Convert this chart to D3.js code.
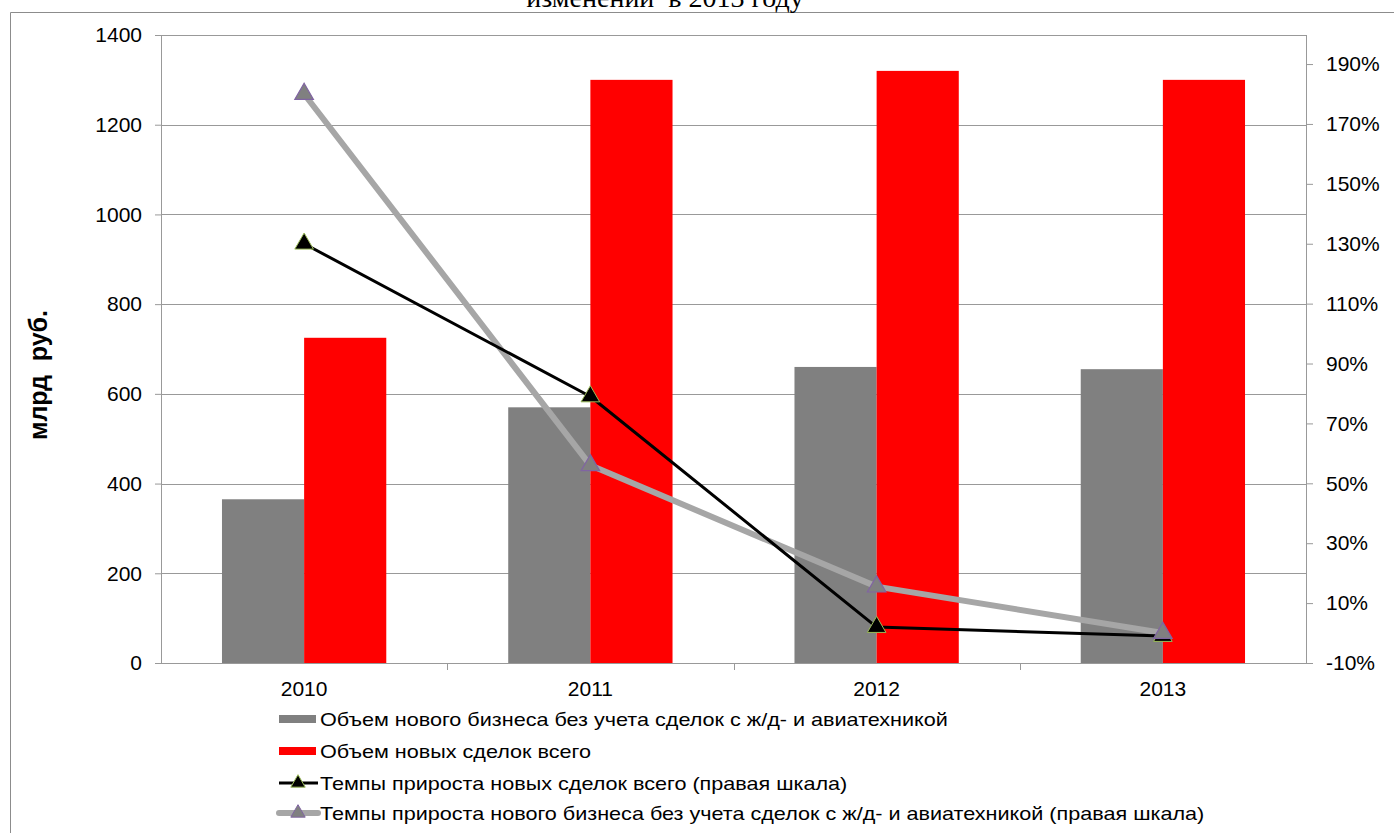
<!DOCTYPE html>
<html>
<head>
<meta charset="utf-8">
<script src="https://cdn.jsdelivr.net/npm/d3@7"></script>
<style>
  body { margin: 0; background: #fff; }
  svg text { font-family: Arial, 'Liberation Sans', sans-serif; fill: #000; }
</style>
</head>
<body>
<div id="chart"></div>
<script>
// data
const years = ['2010', '2011', '2012', '2013'];
const volumeNoRail = [365, 570, 660, 655];        // млрд руб, gray bars
const volumeTotal = [725, 1300, 1320, 1300];      // млрд руб, red bars
const growthTotal = [1.30, 0.79, 0.02, -0.01];    // right scale
const growthNoRail = [1.80, 0.56, 0.155, 0.0];    // right scale
const leftTicks = [0, 200, 400, 600, 800, 1000, 1200, 1400];
const rightTicks = [-0.1, 0.1, 0.3, 0.5, 0.7, 0.9, 1.1, 1.3, 1.5, 1.7, 1.9];
const legendLabels = [
  'Объем нового бизнеса без учета сделок с ж/д- и авиатехникой',
  'Объем новых сделок всего',
  'Темпы прироста новых сделок всего (правая шкала)',
  'Темпы прироста нового бизнеса без учета сделок с ж/д- и авиатехникой (правая шкала)'
];

const W = 1394, H = 833;
const margin = { left: 161, right: 88, top: 35, bottom: 170 };
const width = W - margin.left - margin.right;
const height = H - margin.top - margin.bottom;

const svg = d3.select('#chart').append('svg')
  .attr('width', W)
  .attr('height', H);

// outer frame (cut off on the right and bottom)
svg.append('path')
  .attr('d', 'M10.5,' + H + ' V12.5 H' + W)
  .attr('fill', 'none')
  .attr('stroke', '#8c8c8c')
  .attr('stroke-width', 1);

// title, mostly cut off at the top
svg.append('text')
  .attr('x', 665)
  .attr('y', 7)
  .attr('text-anchor', 'middle')
  .style('font-family', "'Liberation Serif', 'Times New Roman', serif")
  .style('font-size', '28px')
  .style('white-space', 'pre')
  .text('изменений  в 2013 году');

const g = svg.append('g')
  .attr('transform', 'translate(' + margin.left + ',' + margin.top + ')');

// Scales
const x = d3.scaleBand().domain(years).range([0, width]);
const y = d3.scaleLinear().domain([0, 1400]).range([height, 0]);
const y2 = d3.scaleLinear().domain([-0.1, 1.997]).range([height, 0]);
const barW = x.bandwidth() * 0.287;

// gridlines
g.selectAll('.grid')
  .data(leftTicks.filter(d => d > 0))
  .enter().append('line')
  .attr('class', 'grid')
  .attr('x1', 0)
  .attr('x2', width)
  .attr('y1', d => Math.round(y(d)) + 0.5)
  .attr('y2', d => Math.round(y(d)) + 0.5)
  .attr('stroke', '#999')
  .attr('stroke-width', 1);

// bars
const groups = g.selectAll('.year')
  .data(years)
  .enter().append('g')
  .attr('class', 'year')
  .attr('transform', d => 'translate(' + (x(d) + x.bandwidth() / 2) + ',0)');
groups.append('rect')
  .attr('x', -barW)
  .attr('width', barW)
  .attr('y', (d, i) => y(volumeNoRail[i]))
  .attr('height', (d, i) => height - y(volumeNoRail[i]))
  .attr('fill', '#808080');
groups.append('rect')
  .attr('x', 0)
  .attr('width', barW)
  .attr('y', (d, i) => y(volumeTotal[i]))
  .attr('height', (d, i) => height - y(volumeTotal[i]))
  .attr('fill', '#ff0000');

// Left axis
const yAxis = g.append('g')
  .call(d3.axisLeft(y).tickValues(leftTicks).tickSize(6).tickPadding(13)
    .tickFormat(d3.format('d')));
// Right axis
const pct = d => Math.round(d * 100) + '%';
const y2Axis = g.append('g')
  .attr('transform', 'translate(' + width + ',0)')
  .call(d3.axisRight(y2).tickValues(rightTicks).tickSize(7).tickPadding(13)
    .tickFormat(pct));
// X axis
const xAxis = g.append('g')
  .attr('transform', 'translate(0,' + height + ')')
  .call(d3.axisBottom(x).tickSize(0).tickPadding(18));
xAxis.selectAll('.xb')
  .data(years.slice(1))
  .enter().append('line')
  .attr('class', 'xb')
  .attr('x1', d => Math.round(x(d)) + 0.5)
  .attr('x2', d => Math.round(x(d)) + 0.5)
  .attr('y1', 0)
  .attr('y2', 7)
  .attr('stroke', '#999');

[yAxis, y2Axis, xAxis].forEach(a => {
  a.selectAll('path.domain').attr('stroke', '#999');
  a.selectAll('.tick line').attr('stroke', '#999');
  a.selectAll('text').style('font-size', '21px').attr('fill', '#000');
});
yAxis.select('path.domain').attr('d', 'M0.5,' + height + 'V0');
y2Axis.select('path.domain').attr('d', 'M0.5,' + height + 'V0');
xAxis.select('path.domain').attr('d', 'M0,0.5H' + width);

// Y-axis title
g.append('text')
  .attr('transform', 'translate(-114,' + (height / 2 + 26) + ') rotate(-90)')
  .attr('text-anchor', 'middle')
  .style('font-size', '25px')
  .style('font-weight', 'bold')
  .style('white-space', 'pre')
  .text('млрд  руб.');

// lines
const cx = d => x(d) + x.bandwidth() / 2;
const triangle = d3.symbol().type(d3.symbolTriangle).size(150);

const lineNoRail = d3.line().x((d, i) => cx(years[i])).y(d => y2(d));
g.append('path')
  .datum(growthNoRail)
  .attr('d', lineNoRail)
  .attr('fill', 'none')
  .attr('stroke', '#a6a6a6')
  .attr('stroke-width', 6)
  .attr('stroke-linejoin', 'round');

const lineTotal = d3.line().x((d, i) => cx(years[i])).y(d => y2(d));
g.append('path')
  .datum(growthTotal)
  .attr('d', lineTotal)
  .attr('fill', 'none')
  .attr('stroke', '#000')
  .attr('stroke-width', 3)
  .attr('stroke-linejoin', 'round');

g.selectAll('.mk-total')
  .data(growthTotal)
  .enter().append('path')
  .attr('class', 'mk-total')
  .attr('d', triangle)
  .attr('transform', (d, i) => 'translate(' + cx(years[i]) + ',' + y2(d) + ')')
  .attr('fill', '#000')
  .attr('stroke', '#9bbb59')
  .attr('stroke-width', 1);

g.selectAll('.mk-norail')
  .data(growthNoRail)
  .enter().append('path')
  .attr('class', 'mk-norail')
  .attr('d', triangle)
  .attr('transform', (d, i) => 'translate(' + cx(years[i]) + ',' + y2(d) + ')')
  .attr('fill', '#808080')
  .attr('stroke', '#8064a2')
  .attr('stroke-width', 1.2);

// Legend
const legend = svg.append('g').attr('transform', 'translate(279,0)');
const rowY = [719, 751, 783, 813];
legendLabels.forEach((lab, i) => {
  const row = legend.append('g').attr('transform', 'translate(0,' + rowY[i] + ')');
  if (i < 2) {
    row.append('rect')
      .attr('x', 0).attr('y', -4).attr('width', 37).attr('height', 8)
      .attr('fill', i === 0 ? '#808080' : '#ff0000');
  } else if (i === 2) {
    row.append('line')
      .attr('x1', 0).attr('x2', 39).attr('y1', 0).attr('y2', 0)
      .attr('stroke', '#000').attr('stroke-width', 3);
    row.append('path')
      .attr('d', d3.symbol().type(d3.symbolTriangle).size(90))
      .attr('transform', 'translate(19,0)')
      .attr('fill', '#000').attr('stroke', '#9bbb59');
  } else {
    row.append('line')
      .attr('x1', 0).attr('x2', 39).attr('y1', 0).attr('y2', 0)
      .attr('stroke', '#a6a6a6').attr('stroke-width', 6)
      .attr('stroke-linecap', 'round');
    row.append('path')
      .attr('d', d3.symbol().type(d3.symbolTriangle).size(90))
      .attr('transform', 'translate(19,0)')
      .attr('fill', '#808080').attr('stroke', '#8064a2');
  }
  row.append('text')
    .attr('transform', 'translate(41,6.5) scale(1.2,1)')
    .style('font-size', '18px')
    .text(lab);
});
</script>
</body>
</html>
